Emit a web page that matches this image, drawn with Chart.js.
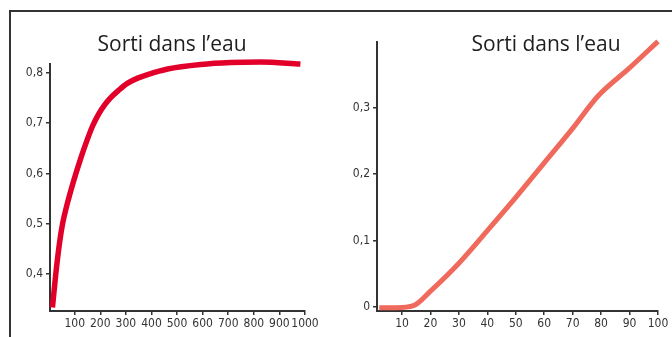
<!DOCTYPE html>
<html>
<head>
<meta charset="utf-8">
<script src="https://cdn.jsdelivr.net/npm/chart.js@4.4.1/dist/chart.umd.min.js"></script>
<style>
  body { margin: 0; background: #fff; }
  #wrap { position: relative; width: 672px; height: 337px; overflow: hidden; }
  #frame { position: absolute; left: 9px; top: 10px; width: 700px; height: 400px;
           border-top: 2px solid #333; border-left: 2px solid #333; }
  canvas { position: absolute; top: 0; }
  #c1 { left: 0; }
  #c2 { left: 336px; }
  .title { position: absolute; top: 33px; transform: translateX(-50%);
           font-family: "Open Sans"; font-size: 21px; line-height: 21px;
           color: #1e1e1e; white-space: nowrap; }
</style>
</head>
<body>
<div id="wrap">
  <div id="frame"></div>
  <canvas id="c1" width="336" height="337"></canvas>
  <canvas id="c2" width="336" height="337"></canvas>
  <div class="title" style="left:172px">Sorti dans l’eau</div>
  <div class="title" style="left:546px">Sorti dans l’eau</div>
</div>
<script>
// left chart: values
var leftX = [13, 26, 41, 53, 69, 97, 123, 147, 170, 194, 217, 240, 272, 307, 346, 385, 463, 592, 709, 826, 982];
var leftY = [0.334, 0.400, 0.463, 0.501, 0.536, 0.587, 0.629, 0.664, 0.694, 0.718, 0.736, 0.750, 0.765, 0.779, 0.789, 0.796, 0.807, 0.816, 0.820, 0.821, 0.817];
var leftXTicks = [100, 200, 300, 400, 500, 600, 700, 800, 900, 1000];
var leftYTicks = [0.4, 0.5, 0.6, 0.7, 0.8];

// right chart
var rightX = [2, 8, 14, 20, 30, 40, 50, 60, 70, 79, 90, 100];
var rightY = [-0.001, -0.001, 0.002, 0.024, 0.066, 0.115, 0.165, 0.217, 0.269, 0.318, 0.36, 0.40];
var rightXTicks = [10, 20, 30, 40, 50, 60, 70, 80, 90, 100];
var rightYTicks = [0, 0.1, 0.2, 0.3];

var axisColor = '#333';
var tickFont = { family: "'DejaVu Sans Condensed', Roboto, sans-serif", size: 12 };

function fmt(v) {
    return String(v).replace('.', ',');
}

function makeChart(id, xs, ys, color, lw, xTicks, yTicks, xr, yr, yWidth, pad) {
    var pts = xs.map(function(x, i) { return { x: x, y: ys[i] }; });
    return new Chart(document.getElementById(id), {
        type: 'line',
        data: { datasets: [{
            data: pts,
            borderColor: color,
            borderWidth: lw,
            pointRadius: 0,
            cubicInterpolationMode: 'monotone',
            clip: false
        }] },
        options: {
            responsive: false,
            animation: false,
            devicePixelRatio: 1,
            layout: { padding: pad },
            plugins: { legend: { display: false }, tooltip: { enabled: false } },
            scales: {
                x: {
                    type: 'linear', min: xr[0], max: xr[1],
                    afterBuildTicks: function(s) { s.ticks = xTicks.map(function(v) { return { value: v }; }); },
                    afterFit: function(s) { s.height = 20; },
                    grid: { drawOnChartArea: false, drawTicks: true, tickLength: 4, color: axisColor, lineWidth: 1.5 },
                    border: { display: true, color: axisColor, width: 2 },
                    ticks: { color: axisColor, font: tickFont, padding: 2, maxRotation: 0, autoSkip: false, callback: fmt }
                },
                y: {
                    type: 'linear', min: yr[0], max: yr[1],
                    afterBuildTicks: function(s) { s.ticks = yTicks.map(function(v) { return { value: v }; }); },
                    afterFit: function(s) { s.width = yWidth; },
                    grid: { drawOnChartArea: false, drawTicks: true, tickLength: 4, color: axisColor, lineWidth: 1.5 },
                    border: { display: true, color: axisColor, width: 2 },
                    ticks: { color: axisColor, font: tickFont, padding: 3, callback: fmt }
                }
            }
        }
    });
}

makeChart('c1', leftX, leftY, '#e2002a', 5.5, leftXTicks, leftYTicks,
          [3.5, 1000], [0.327, 0.817], 50, { top: 64, right: 31, bottom: 6, left: 0 });
makeChart('c2', rightX, rightY, '#ef6a5c', 5, rightXTicks, rightYTicks,
          [1.2, 100], [-0.006, 0.399], 41, { top: 42, right: 14, bottom: 6, left: 0 });
</script>
</body>
</html>
